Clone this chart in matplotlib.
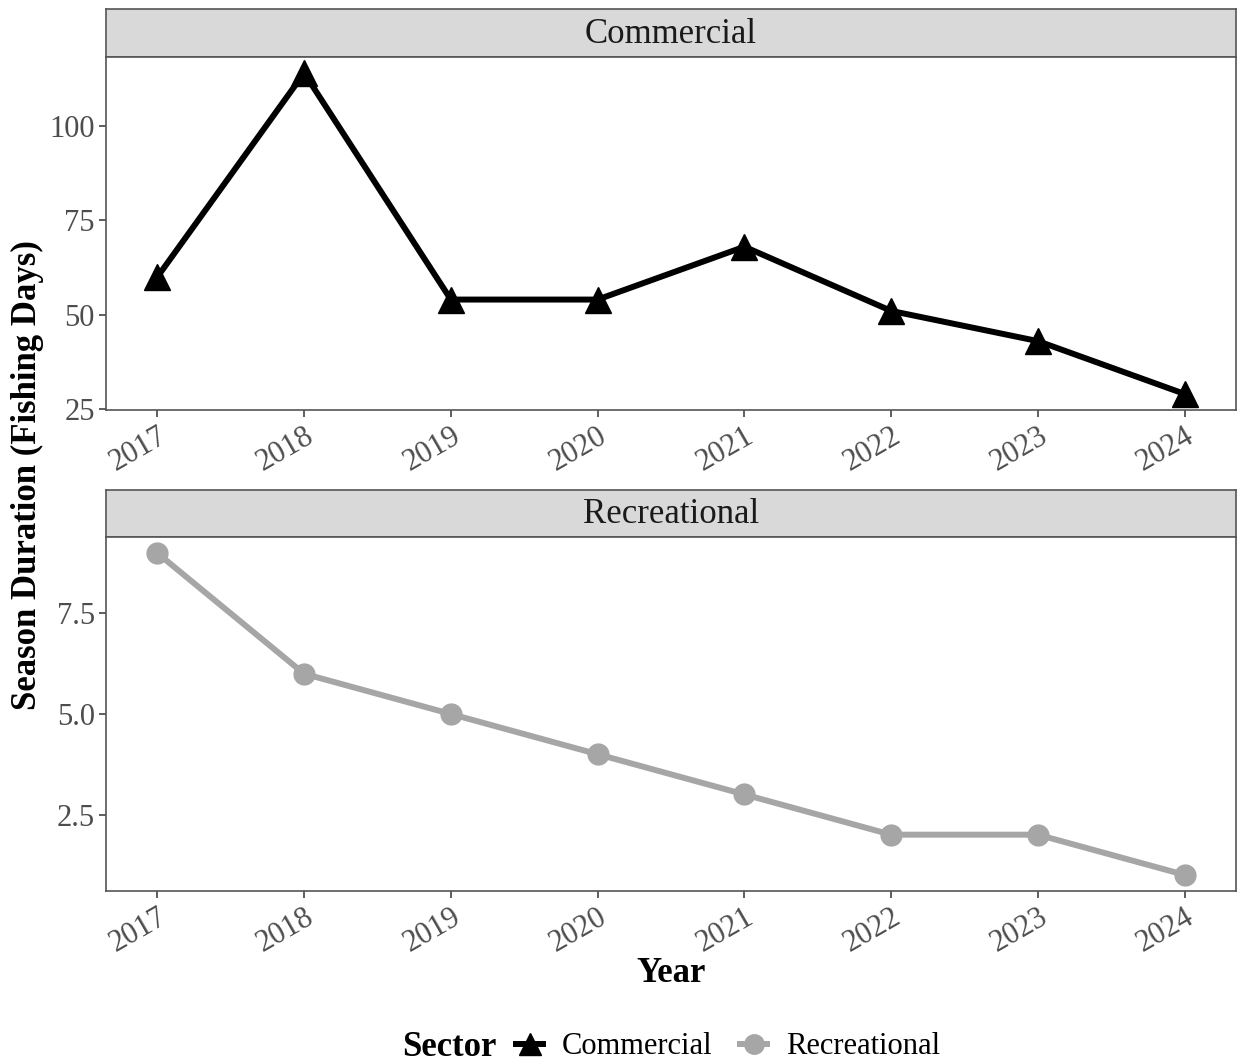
import matplotlib
matplotlib.use("Agg")
import matplotlib.pyplot as plt
from matplotlib.lines import Line2D
from matplotlib.offsetbox import HPacker

years = [2017, 2018, 2019, 2020, 2021, 2022, 2023, 2024]
commercial_days = [60, 114, 54, 54, 68, 51, 43, 29]
recreational_days = [9, 6, 5, 4, 3, 2, 2, 1]
commercial_yticks = [25, 50, 75, 100]
recreational_yticks = [2.5, 5.0, 7.5]

plt.rcParams["font.family"] = ["Liberation Serif", "DejaVu Serif"]

W, H = 1238, 1063
fig = plt.figure(figsize=(W / 100, H / 100), dpi=100)

def px(x0, y0, x1, y1):
    return [x0 / W, 1 - y1 / H, (x1 - x0) / W, (y1 - y0) / H]

TICK_GRAY = "#4D4D4D"
BORDER = "#555555"
TICK_FS = 22

def panel(strip_box, ax_box, title, x, y, color, marker, msize, yticks, fmt):
    sax = fig.add_axes(px(*strip_box))
    sax.set_facecolor("#D9D9D9")
    sax.set_xticks([]); sax.set_yticks([])
    for s in sax.spines.values():
        s.set_color(BORDER); s.set_linewidth(1.2)
    sax.text(0.5, 0.29, title, ha="center", va="baseline", fontsize=25,
             color="#1A1A1A", transform=sax.transAxes)

    ax = fig.add_axes(px(*ax_box))
    ax.plot(x, y, color=color, lw=4.3, marker=marker, ms=msize,
            solid_joinstyle="miter", zorder=3, clip_on=False)
    span = max(y) - min(y)
    ax.set_ylim(min(y) - 0.05 * span, max(y) + 0.05 * span)
    ax.set_xlim(2017 - 0.35, 2024 + 0.35)
    ax.set_xticks(years)
    ax.set_xticklabels([str(v) for v in years], rotation=30, ha="right",
                       rotation_mode="anchor", fontsize=TICK_FS, color=TICK_GRAY)
    ax.set_yticks(yticks)
    ax.set_yticklabels([fmt.format(v) for v in yticks], fontsize=TICK_FS,
                       color=TICK_GRAY)
    ax.tick_params(length=5, width=1.1, color="#333333", pad=3)
    for s in ax.spines.values():
        s.set_color(BORDER); s.set_linewidth(1.2)
    return ax

panel((106, 9, 1236, 57), (106, 57, 1236, 410), "Commercial",
      years, commercial_days, "black", "^", 19, commercial_yticks, "{:g}")
panel((106, 490, 1236, 537), (106, 537, 1236, 891), "Recreational",
      years, recreational_days, "#A6A6A6", "o", 15, recreational_yticks, "{:.1f}")

fig.text(27 / W, 1 - 475 / H, "Season Duration (Fishing Days)", rotation=90,
         ha="center", va="center", fontsize=25, fontweight="bold")
fig.text(671 / W, 1 - 973 / H, "Year", ha="center", va="center",
         fontsize=25, fontweight="bold")

handles = [
    Line2D([], [], color="black", lw=4.3, marker="^", ms=16),
    Line2D([], [], color="#A6A6A6", lw=4.3, marker="o", ms=14),
]
leg = fig.legend(handles, ["Commercial", "Recreational"], title="Sector",
                 loc="center", bbox_to_anchor=(671 / W, 1 - 1047 / H),
                 ncol=2, frameon=False, fontsize=22, handlelength=0.9,
                 columnspacing=0.9, handletextpad=0.6)
leg.get_title().set_fontweight("bold")
leg.get_title().set_fontsize(25)
# title sits to the left of the entries
title_box = leg._legend_title_box
handle_box = leg._legend_handle_box
leg._legend_box = HPacker(pad=0, sep=14, align="center",
                          children=[title_box, handle_box])
leg._legend_box.set_figure(fig)
leg._legend_box.set_offset(leg._findoffset)

fig.savefig("out.png", dpi=100)
